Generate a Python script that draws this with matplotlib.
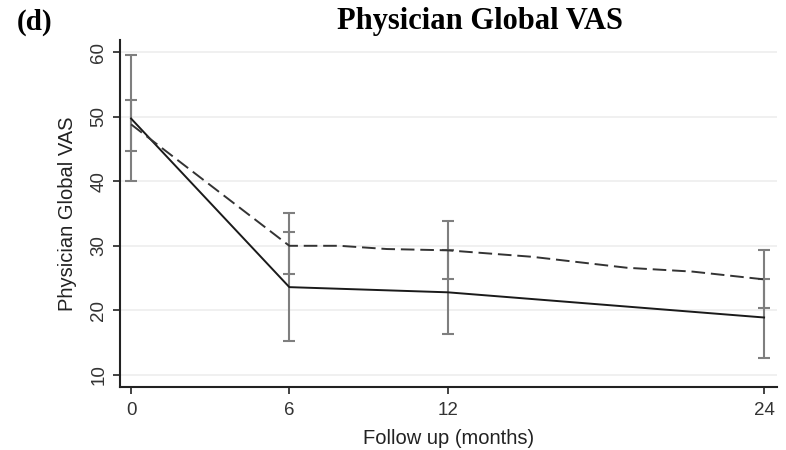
import numpy as np
import matplotlib.pyplot as plt

# Physician Global VAS over follow-up, two groups (solid / dashed)
months = [0, 6, 12, 24]

# solid group: means and 95% CI
solid_mean = [49.7, 23.6, 22.8, 18.9]
solid_lo = [40.0, 15.3, 16.4, 12.7]
solid_hi = [59.6, 32.1, 29.3, 24.9]

# dashed group: means and 95% CI
dashed_mean = [48.8, 30.0, 29.3, 24.8]
dashed_lo = [44.6, 25.7, 24.9, 20.4]
dashed_hi = [52.6, 35.0, 33.8, 29.4]

# dashed line as drawn (it has a few extra vertices between visits)
dashed_x = [0, 6, 7.9, 9.7, 12, 15.2, 18.8, 21.3, 24]
dashed_y = [48.8, 30.0, 30.0, 29.5, 29.3, 28.3, 26.6, 26.0, 24.8]

yticks = [10, 20, 30, 40, 50, 60]

fig = plt.figure(figsize=(7.86, 4.5), dpi=100)
ax = fig.add_axes([120 / 786, 1 - 387 / 450, 657 / 786, 347 / 450])

for y in yticks:
    ax.axhline(y, color='#eeeeee', lw=1.2, zorder=0)

err_col = '#7f7f7f'
for lo, hi in [(solid_lo, solid_hi), (dashed_lo, dashed_hi)]:
    mid = [(a + b) / 2 for a, b in zip(lo, hi)]
    half = [(b - a) / 2 for a, b in zip(lo, hi)]
    ax.errorbar(months, mid, yerr=half, fmt='none', ecolor=err_col,
                elinewidth=1.5, capsize=4.5, capthick=1.5, zorder=2)

ax.plot(months, solid_mean, color='#1a1a1a', lw=1.4, zorder=3)
ax.plot(dashed_x, dashed_y, color='#333333', lw=1.4, ls=(0, (7, 3)), zorder=3)

ax.set_xlim(-0.42, 24.49)
ax.set_ylim(8.14, 61.86)
ax.set_xticks(months)
ax.set_yticks(yticks)
ax.tick_params(axis='both', direction='out', length=5, width=1.2,
               color='#222222', labelcolor='#333333', labelsize=13.5)
ax.tick_params(axis='x', pad=6)
ax.tick_params(axis='y', pad=4)
for lab in ax.get_yticklabels():
    lab.set_rotation(90)
    lab.set_va('center')
for s in ['top', 'right']:
    ax.spines[s].set_visible(False)
for s in ['left', 'bottom']:
    ax.spines[s].set_linewidth(1.5)
    ax.spines[s].set_color('#222222')

ax.set_xlabel('Follow up (months)', fontsize=14.5, color='#222222',
              family='Liberation Sans', labelpad=7)
ax.set_ylabel('Physician Global VAS', fontsize=14.5, color='#222222',
              family='Liberation Sans')
ax.yaxis.set_label_coords(-0.066, 0.5)
for lab in ax.get_xticklabels() + ax.get_yticklabels():
    lab.set_family('Liberation Sans')

fig.text(480 / 786, 1 - 22 / 450, 'Physician Global VAS', ha='center', va='center',
         fontsize=22, fontweight='bold', family='Liberation Serif')
fig.text(17 / 786, 1 - 22 / 450, '(d)', ha='left', va='center',
         fontsize=21, fontweight='bold', family='Liberation Serif')

fig.savefig('out.png', dpi=100)
